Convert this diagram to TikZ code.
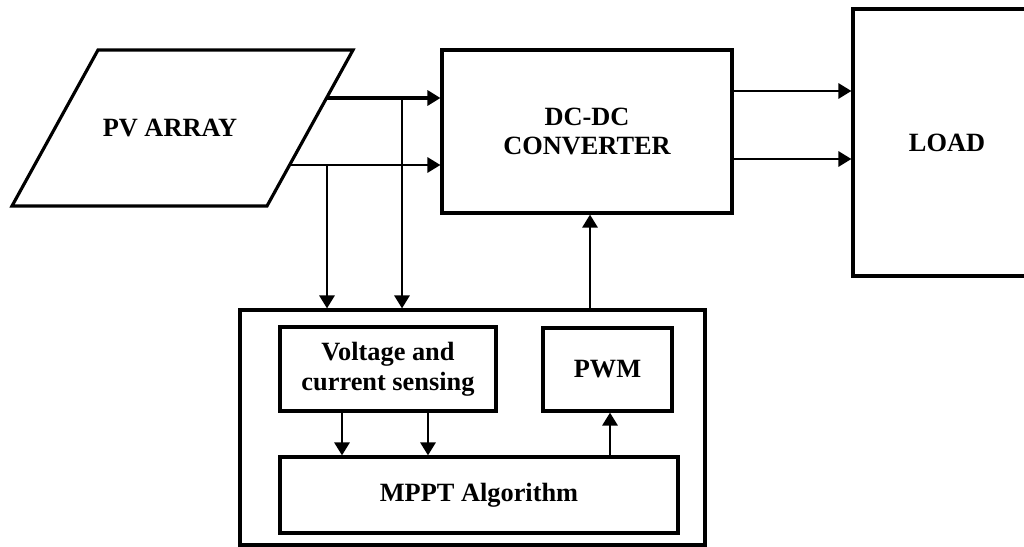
\documentclass[tikz,border=0pt]{standalone}
\usepackage{fontspec}
\setmainfont{Liberation Serif}
\usepackage{tikz}
\usetikzlibrary{arrows.meta,positioning,calc}

\begin{document}
\begin{tikzpicture}[x=0.02cm,y=-0.02cm,
bloque/.style={draw,line width=1.8pt,minimum width=#1,align=center,inner sep=0pt,font=\fontsize{15}{17}\selectfont\bfseries},
flecha/.style={-{Triangle[length=2.6mm,width=3mm]},line width=1.6pt},
texto/.style={font=\fontsize{15}{17}\selectfont\bfseries,align=center}
]
\useasboundingbox (0,0) rectangle (1024,547);

% PV array (parallelogram)
\coordinate (pvtl) at (98,50);
\coordinate (pvtr) at (353,50);
\coordinate (pvbr) at (267,206);
\coordinate (pvbl) at (12,206);
\draw[line width=1.8pt,line join=miter] (pvtl) -- (pvtr) -- (pvbr) -- (pvbl) -- cycle;
\node[texto] (pv) at (170,128) {PV ARRAY};
\coordinate (pvout1) at ($(pvtr)!48/156!(pvbr)$);
\coordinate (pvout2) at ($(pvtr)!115/156!(pvbr)$);

% converter and load
\node[bloque=5.8cm,minimum height=3.26cm] (conv) at (587,131.5) {DC-DC\\CONVERTER};
\node[bloque=3.76cm,minimum height=5.34cm] (load) at (947,142.5) {LOAD};

% control unit
\node[draw,line width=1.8pt,minimum width=9.3cm,minimum height=4.7cm] (ctrl) at (472.5,427.5) {};
\node[bloque=4.32cm,minimum height=1.68cm] (sens) at (388,369) {Voltage and\\current sensing};
\node[bloque=2.58cm,minimum height=1.66cm] (pwm) at (607.5,369.5) {PWM};
\node[bloque=7.96cm,minimum height=1.52cm] (mppt) at (479,495) {MPPT Algorithm};

% junctions
\coordinate (j1) at (402,0);
\coordinate (j2) at (327,0);
\coordinate (j3) at (590,0);

\draw[flecha,line width=2.4pt] (pvout1) -- (pvout1 -| conv.west);
\draw[flecha] (pvout2) -- (pvout2 -| conv.west);
\draw[flecha] (pvout1 -| j1) -- (ctrl.north -| j1);
\draw[flecha] (pvout2 -| j2) -- (ctrl.north -| j2);
\draw[flecha] (ctrl.north -| j3) -- (conv.south -| j3);

\draw[flecha] (conv.east |- 0,91) -- (load.west |- 0,91);
\draw[flecha] (conv.east |- 0,159) -- (load.west |- 0,159);

\draw[flecha] (sens.south -| 342,0) -- (mppt.north -| 342,0);
\draw[flecha] (sens.south -| 428,0) -- (mppt.north -| 428,0);
\draw[flecha] (mppt.north -| 610,0) -- (pwm.south -| 610,0);
\end{tikzpicture}
\end{document}
